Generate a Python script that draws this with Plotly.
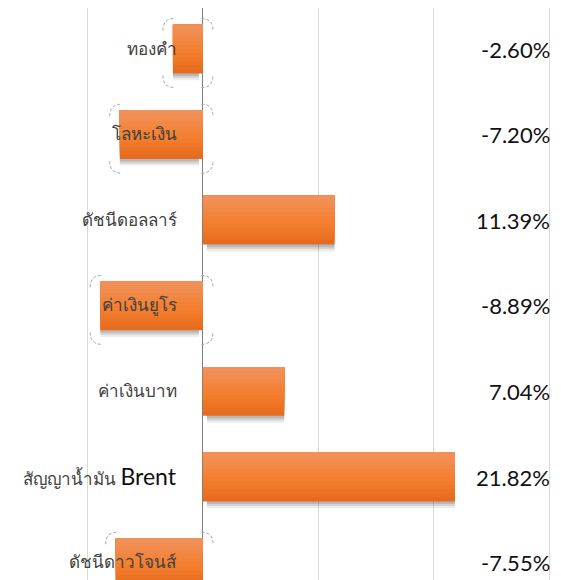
import plotly.graph_objects as go

categories = ["ทองคำ", "โลหะเงิน", "ดัชนีดอลลาร์", "ค่าเงินยูโร", "ค่าเงินบาท", "สัญญาน้ำมัน Brent", "ดัชนีดาวโจนส์"]
values = [-2.60, -7.20, 11.39, -8.89, 7.04, 21.82, -7.55]
value_labels = ["-2.60%", "-7.20%", "11.39%", "-8.89%", "7.04%", "21.82%", "-7.55%"]
x_ticks = [-10, 0, 10, 20, 30]

idx = list(range(len(categories)))
BW = 0.57
fig = go.Figure()

# shadows
base = [0.35 if v > 0 else -0.35 for v in values]
sh = [v - b for v, b in zip(values, base)]
for off, col in [(0.08, "rgba(0,0,0,0.07)"), (0.055, "rgba(0,0,0,0.10)"), (0.03, "rgba(0,0,0,0.13)")]:
    fig.add_trace(go.Bar(x=sh, y=idx, base=base, orientation="h", width=BW,
                         offset=-BW / 2 + off, marker=dict(color=col, line_width=0),
                         hoverinfo="skip", showlegend=False))

def lerp(c1, c2, t):
    return tuple(round(a + (b - a) * t) for a, b in zip(c1, c2))

top_c = (241, 146, 92)
mid_c = (243, 125, 44)
bot_c = (228, 105, 28)
N = 12
for k in range(N):
    frac = 1 - k / N
    t = frac - 0.5 / N
    if t > 0.6:
        c = lerp(mid_c, bot_c, (t - 0.6) / 0.4)
    else:
        c = lerp(top_c, mid_c, t / 0.6)
    fig.add_trace(go.Bar(x=values, y=idx, orientation="h", width=BW * frac,
                         offset=-BW / 2,
                         marker=dict(color="rgb(%d,%d,%d)" % c, line_width=0),
                         hoverinfo="skip", showlegend=False))

# callout corners for negative bars
shapes = []
for i, v in zip(idx, values):
    if v >= 0:
        continue
    x0, x1 = v - 0.87, 0.87
    y0, y1 = i - 0.355, i + 0.45
    rx, ry = 1.0, 0.14
    p = (f"M {x0},{y0+ry} Q {x0},{y0} {x0+rx},{y0} "
         f"M {x1-rx},{y0} Q {x1},{y0} {x1},{y0+ry} "
         f"M {x0},{y1-ry} Q {x0},{y1} {x0+rx},{y1} "
         f"M {x1-rx},{y1} Q {x1},{y1} {x1},{y1-ry}")
    shapes.append(dict(type="path", path=p, xref="x", yref="y",
                       line=dict(color="#a6a6a6", width=1, dash="3px,2px"), layer="above"))

annotations = []
for i, c in zip(idx, categories):
    txt = c.replace("Brent", "<span style='font-family:Lato;font-size:23px;color:#111'>Brent</span>")
    annotations.append(dict(x=0, y=i, xref="x", yref="y", text=txt, showarrow=False,
                            xanchor="right", xshift=-24, yshift=1,
                            font=dict(family="Noto Sans, Tahoma, sans-serif", size=17, color="#404040")))
for i, t in zip(idx, value_labels):
    annotations.append(dict(x=0.984, y=i, xref="paper", yref="y", text=t, showarrow=False,
                            xanchor="right", yshift=0,
                            font=dict(family="Lato, Calibri, sans-serif", size=22, color="#111111")))

fig.update_layout(
    width=553, height=572, barmode="overlay",
    margin=dict(l=0, r=0, t=0, b=0),
    plot_bgcolor="white", paper_bgcolor="white",
    shapes=shapes, annotations=annotations,
    xaxis=dict(range=[-16.88, 31.0], tickvals=x_ticks, showticklabels=False,
               showgrid=True, gridcolor="#d9d9d9", gridwidth=1,
               zeroline=True, zerolinecolor="#7f7f7f", zerolinewidth=1, fixedrange=True),
    yaxis=dict(range=[6.203, -0.479], showticklabels=False, showgrid=False,
               zeroline=False, fixedrange=True),
)

fig.write_html("out.html")
